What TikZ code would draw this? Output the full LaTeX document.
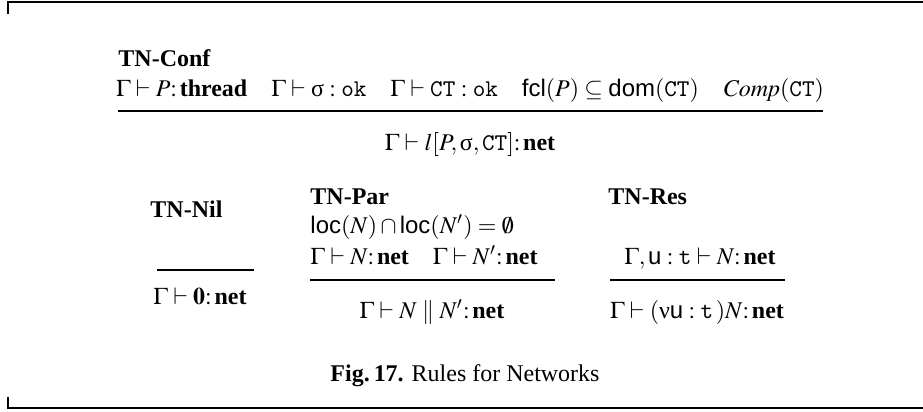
\documentclass[tikz,border=0pt]{standalone}
\usepackage{mathptmx}
\usepackage{fontspec}
\setmainfont{Liberation Serif}
\setsansfont{Liberation Sans}
\usepackage{amssymb}
\newcommand{\usig}{\mbox{σ}}
\newcommand{\unu}{\mbox{ν}}

\begin{document}
\begin{tikzpicture}[x=0.417pt,y=-0.417pt,
  rulename/.style={font=\bfseries,anchor=base west,inner sep=0pt},
  judg/.style={anchor=base,inner sep=0pt},
  premleft/.style={anchor=base west,inner sep=0pt},
  infline/.style={line width=0.45pt},
  frameline/.style={line width=0.85pt},
]
  \useasboundingbox (0,0) rectangle (923,411);
  % frame
  \draw[frameline] (8,14) -- (8,2) -- (923,2);
  \draw[frameline] (8,397) -- (8,408) -- (923,408);

  % TN-Conf
  \node[rulename] (conf) at (118,67) {TN-Conf};
  \node[judg] (confprem) at (470,96) {$\Gamma\vdash P\colon\textbf{thread}\quad
    \Gamma\vdash\usig:\texttt{ok}\quad
    \Gamma\vdash\texttt{CT}:\texttt{ok}\quad
    \textsf{fcl}(P)\subseteq\textsf{dom}(\texttt{CT})\quad
    \mathit{Comp}(\texttt{CT})$};
  \coordinate (confa) at (118,111);
  \coordinate (confb) at (823,111);
  \draw[infline] (confa) -- (confb);
  \node[judg] (confconc) at (470,150) {$\Gamma\vdash l[P,\usig,\texttt{CT}]\colon\textbf{net}$};

  % TN-Nil
  \node[rulename] (nil) at (150,217) {TN-Nil};
  \coordinate (nila) at (157,270);
  \coordinate (nilb) at (254,270);
  \draw[infline] (nila) -- (nilb);
  \node[judg] (nilconc) at (200,304) {$\Gamma\vdash\mathbf{0}\colon\textbf{net}$};

  % TN-Par
  \node[rulename] (par) at (310,204) {TN-Par};
  \node[premleft] (parprema) at (310,233) {$\textsf{loc}(N)\cap\textsf{loc}(N')=\emptyset$};
  \node[premleft] (parpremb) at (310,264) {$\Gamma\vdash N\colon\textbf{net}\quad\Gamma\vdash N'\colon\textbf{net}$};
  \coordinate (para) at (310,280);
  \coordinate (parb) at (555,280);
  \draw[infline] (para) -- (parb);
  \node[judg] (parconc) at (432,318) {$\Gamma\vdash N\parallel N'\colon\textbf{net}$};

  % TN-Res
  \node[rulename] (res) at (608,204) {TN-Res};
  \node[judg] (resprem) at (700,264) {$\Gamma,\textsf{u}:\texttt{t}\vdash N\colon\textbf{net}$};
  \coordinate (resa) at (610,280);
  \coordinate (resb) at (785,280);
  \draw[infline] (resa) -- (resb);
  \node[judg] (resconc) at (697,318) {$\Gamma\vdash(\unu\textsf{u}:\texttt{t}\,)N\colon\textbf{net}$};

  % caption
  \node[judg] (cap) at (465,381) {\textbf{Fig.\,17.} Rules for Networks};
\end{tikzpicture}
\end{document}
